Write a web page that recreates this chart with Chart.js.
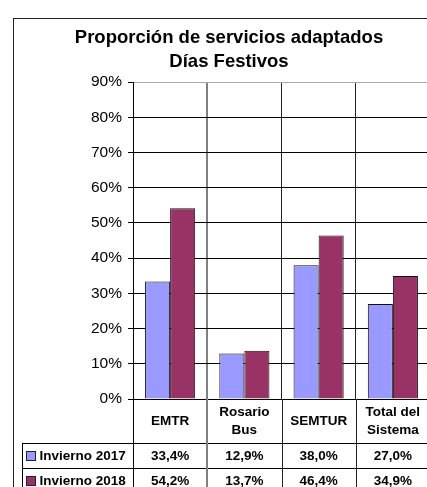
<!DOCTYPE html>
<html>
<head>
<meta charset="utf-8">
<script src="https://cdn.jsdelivr.net/npm/chart.js@4"></script>
<style>
  html, body { margin: 0; padding: 0; background: #fff; overflow: hidden; }
  #wrap { position: absolute; left: 0; top: 0; width: 458px; height: 520px; }
</style>
</head>
<body>
<div id="wrap"><canvas id="chart" width="458" height="520"></canvas></div>
<script>
// datos
const categorias = [["EMTR"], ["Rosario", "Bus"], ["SEMTUR"], ["Total del", "Sistema"]];
const series = ["Invierno 2017", "Invierno 2018"];
const invierno2017 = [33.4, 12.9, 38.0, 27.0];
const invierno2018 = [54.2, 13.7, 46.4, 34.9];
const colores = ["#9999FF", "#993366"];
const ticksY = [0, 10, 20, 30, 40, 50, 60, 70, 80, 90];

const fmt = v => v.toFixed(1).replace(".", ",") + "%";
const fuenteTabla = "bold 13.5px Arial, 'Liberation Sans', sans-serif";

// tabla de datos debajo del eje + marco exterior
const tablaDatos = {
    id: "tablaDatos",
    afterDraw(chart) {
        const ctx = chart.ctx;
        const x = chart.scales.x;
        const area = chart.chartArea;
        const ancho = x.width / categorias.length;
        const filaAlto = 25;
        const izq = 22;
        const y0 = x.bottom;
        ctx.save();
        // marco exterior
        ctx.strokeStyle = "#222";
        ctx.lineWidth = 1;
        ctx.strokeRect(13.5, 18.5, 431, 560);
        // líneas horizontales
        ctx.strokeStyle = "#000";
        for (let r = 0; r <= series.length; r++) {
            const y = Math.round(y0 + r * filaAlto) + 0.5;
            ctx.beginPath();
            ctx.moveTo(izq, y);
            ctx.lineTo(area.right, y);
            ctx.stroke();
        }
        ctx.beginPath();
        ctx.moveTo(izq + 0.5, y0);
        ctx.lineTo(izq + 0.5, y0 + series.length * filaAlto);
        ctx.stroke();
        ctx.beginPath();
        ctx.moveTo(area.left + 0.5, area.bottom);
        ctx.lineTo(area.left + 0.5, y0 + series.length * filaAlto);
        ctx.stroke();
        for (let i = 1; i <= categorias.length; i++) {
            const bx = x.getPixelForTick(i - 1) + ancho / 2;
            ctx.strokeStyle = i === 1 ? "#808080" : "#222";
            ctx.lineWidth = i === 1 ? 2 : 1;
            ctx.beginPath();
            ctx.moveTo(Math.round(bx) + (i === 1 ? 0 : 0.5), area.bottom);
            ctx.lineTo(Math.round(bx) + (i === 1 ? 0 : 0.5), y0 + series.length * filaAlto);
            ctx.stroke();
        }
        // filas
        ctx.font = fuenteTabla;
        ctx.fillStyle = "#000";
        ctx.textBaseline = "middle";
        [invierno2017, invierno2018].forEach((vals, r) => {
            const cy = y0 + r * filaAlto + filaAlto / 2 + 0.5;
            ctx.fillStyle = colores[r];
            ctx.fillRect(26.5, cy - 4.5, 9, 9);
            ctx.strokeStyle = "#222";
            ctx.lineWidth = 1;
            ctx.strokeRect(26.5, cy - 4.5, 9, 9);
            ctx.fillStyle = "#000";
            ctx.textAlign = "left";
            ctx.fillText(series[r], 39.5, cy);
            ctx.textAlign = "center";
            vals.forEach((v, i) => {
                ctx.fillText(fmt(v), x.getPixelForTick(i), cy);
            });
        });
        ctx.restore();
    }
};

onload = () => {
    new Chart(document.getElementById("chart"), {
        type: "bar",
        data: {
            labels: categorias,
            datasets: [
                { label: series[0], data: invierno2017, backgroundColor: colores[0] },
                { label: series[1], data: invierno2018, backgroundColor: colores[1] }
            ]
        },
        options: {
            responsive: false,
            animation: false,
            devicePixelRatio: 1,
            layout: { padding: { left: 0, right: 0, top: 18, bottom: 77 } },
            datasets: {
                bar: {
                    borderColor: "#111",
                    borderWidth: 1,
                    barPercentage: 1,
                    categoryPercentage: 0.675
                }
            },
            plugins: {
                legend: { display: false },
                tooltip: { enabled: false },
                title: {
                    display: true,
                    text: ["Proporción de servicios adaptados", "Días Festivos"],
                    color: "#000",
                    font: { family: "Arial, 'Liberation Sans', sans-serif", size: 18.5, weight: "bold", lineHeight: 1.3 },
                    padding: { top: 8, bottom: 8 }
                }
            },
            scales: {
                x: {
                    afterFit: s => { s.height = 44; },
                    grid: {
                        offset: true,
                        drawTicks: false,
                        color: c => c.index === 1 ? "#808080" : "#222",
                        lineWidth: c => c.index === 1 ? 2 : 1
                    },
                    border: { color: "#000", width: 1 },
                    ticks: {
                        color: "#000",
                        padding: 13.5,
                        crossAlign: "center",
                        maxRotation: 0,
                        autoSkip: false,
                        font: { family: "Arial, 'Liberation Sans', sans-serif", size: 13.5, weight: "bold", lineHeight: 1.333 }
                    }
                },
                y: {
                    min: 0,
                    max: 90,
                    afterFit: s => { s.width = 133; },
                    afterBuildTicks: s => { s.ticks = ticksY.map(v => ({ value: v })); },
                    grid: {
                        color: c => c.tick && c.tick.value === 90 ? "#a8a8a8" : "#000",
                        tickColor: "#000",
                        tickLength: 5
                    },
                    border: { color: "#000", width: 1 },
                    ticks: {
                        color: "#000",
                        padding: 6,
                        callback: v => v + "%",
                        font: { family: "Arial, 'Liberation Sans', sans-serif", size: 15.5 }
                    }
                },
                yR: {
                    position: "right",
                    afterFit: s => { s.width = 28; },
                    grid: { display: false },
                    border: { display: false },
                    ticks: { display: false }
                }
            }
        },
        plugins: [tablaDatos]
    });
};
</script>
</body>
</html>
